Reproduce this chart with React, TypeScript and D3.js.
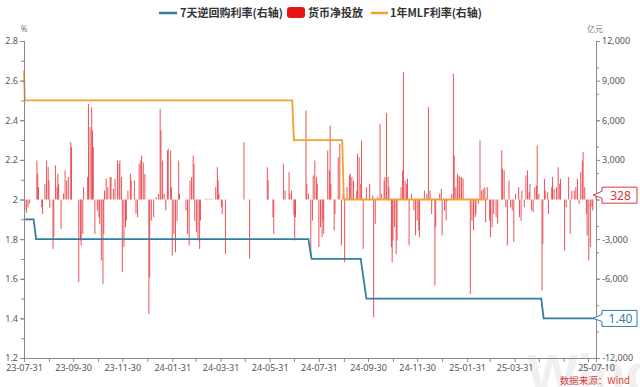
import React, { useEffect, useRef } from "react";
import * as d3 from "d3";

const legendNames = ["7天逆回购利率(右轴)", "货币净投放", "1年MLF利率(右轴)"];
const xDomain = ["2023-07-31", "2025-07-10"];
const leftTicks = [1.2, 1.4, 1.6, 1.8, 2.0, 2.2, 2.4, 2.6, 2.8];
const rightTicks = [-12000, -9000, -6000, -3000, 0, 3000, 6000, 9000, 12000];
const xLabelDates = [
  "2023-07-31", "2023-09-30", "2023-11-30", "2024-01-31", "2024-03-31", "2024-05-31",
  "2024-07-31", "2024-09-30", "2024-11-30", "2025-01-31", "2025-03-31", "2025-07-10",
];
const monthEndDates = [
  "2023-08-31", "2023-10-31", "2023-12-31", "2024-02-29", "2024-04-30", "2024-06-30",
  "2024-08-31", "2024-10-31", "2024-12-31", "2025-02-28", "2025-04-30", "2025-05-31", "2025-06-30",
];

// 7天逆回购利率 (%)
const repo7d: [string, number][] = [
  ["2023-07-31", 1.9], ["2023-08-12", 1.9], ["2023-08-15", 1.8],
  ["2024-07-18", 1.8], ["2024-07-22", 1.7],
  ["2024-09-21", 1.7], ["2024-09-28", 1.5],
  ["2025-05-03", 1.5], ["2025-05-06", 1.4], ["2025-07-10", 1.4],
];

// 1年MLF利率 (%)
const mlf1y: [string, number][] = [
  ["2023-07-31", 2.65], ["2023-08-01", 2.5],
  ["2024-06-28", 2.5], ["2024-06-30", 2.3],
  ["2024-08-29", 2.3], ["2024-08-31", 2.0], ["2025-02-25", 2.0],
];

// 货币净投放 (亿元)
const netInjection: [string, number][] = [
  ["2023-08-01", -800], ["2023-08-03", -1000], ["2023-08-05", -600], ["2023-08-07", -300],
  ["2023-08-16", 2950], ["2023-08-17", 1950], ["2023-08-18", 930], ["2023-08-22", -580], ["2023-08-23", -1090],
  ["2023-08-26", 1190], ["2023-08-28", 2950], ["2023-08-30", 2450], ["2023-08-31", 1440],
  ["2023-09-01", -600], ["2023-09-05", -3740], ["2023-09-06", -2850], ["2023-09-08", 2580], ["2023-09-10", 930],
  ["2023-09-11", 1950], ["2023-09-12", 1190], ["2023-09-15", -2220], ["2023-09-18", 430], ["2023-09-20", 2200],
  ["2023-09-22", 1440], ["2023-09-24", 1700], ["2023-09-27", 4340], ["2023-09-28", 3960],
  ["2023-10-07", -6260], ["2023-10-09", -3100], ["2023-10-10", -3480], ["2023-10-12", -2600], ["2023-10-13", 930],
  ["2023-10-18", 1700], ["2023-10-19", 7250], ["2023-10-21", 5480], ["2023-10-23", 7000], ["2023-10-24", 5230],
  ["2023-10-25", 3960], ["2023-10-27", -2600], ["2023-10-30", -830],
  ["2023-11-01", -1340], ["2023-11-02", -1850], ["2023-11-04", -4620], ["2023-11-06", -6390], ["2023-11-07", -2600],
  ["2023-11-08", 680], ["2023-11-10", 1570], ["2023-11-12", 930], ["2023-11-15", 1700], ["2023-11-16", 1700],
  ["2023-11-19", 800], ["2023-11-21", 1570], ["2023-11-24", 2950], ["2023-11-26", 2700], ["2023-11-27", 2950],
  ["2023-11-29", 1700], ["2023-11-30", -5500],
  ["2023-12-02", -3600], ["2023-12-04", -2100], ["2023-12-05", -1600], ["2023-12-07", 680], ["2023-12-10", 1950],
  ["2023-12-11", 1440], ["2023-12-15", 1440], ["2023-12-17", -1090], ["2023-12-19", -1340], ["2023-12-21", 2700],
  ["2023-12-23", 2950], ["2023-12-24", 3330], ["2023-12-26", 2800], ["2023-12-28", 1950],
  ["2024-01-02", -8660], ["2024-01-03", -5880], ["2024-01-05", -1600], ["2024-01-08", -1340], ["2024-01-11", 180],
  ["2024-01-14", 430], ["2024-01-16", 6870], ["2024-01-17", 5230], ["2024-01-19", 2950], ["2024-01-21", 430],
  ["2024-01-23", -830], ["2024-01-25", 3700], ["2024-01-26", 3830], ["2024-01-29", 3700], ["2024-01-30", 930],
  ["2024-01-31", -4240],
  ["2024-02-02", -2600], ["2024-02-04", -3990], ["2024-02-06", -1600], ["2024-02-08", 2950], ["2024-02-09", 430],
  ["2024-02-17", -830], ["2024-02-19", -2600], ["2024-02-21", -3480], ["2024-02-22", 1440], ["2024-02-24", 1700],
  ["2024-02-26", 3330], ["2024-02-27", 2700], ["2024-02-28", -1600],
  ["2024-03-01", -2470], ["2024-03-03", -3100], ["2024-03-05", -3740], ["2024-03-06", -1600], ["2024-03-12", 80],
  ["2024-03-15", -60], ["2024-03-17", 60], ["2024-03-20", 50], ["2024-03-25", 930], ["2024-03-27", 2450],
  ["2024-03-28", 1440], ["2024-03-29", 430],
  ["2024-04-01", -580], ["2024-04-02", -1090], ["2024-04-06", -4120], ["2024-04-29", 4340],
  ["2024-05-06", -4490], ["2024-05-28", 2450], ["2024-05-29", 1440],
  ["2024-06-04", -1340], ["2024-06-05", -2600], ["2024-06-17", 2700], ["2024-06-19", 680], ["2024-06-24", 2070],
  ["2024-06-25", 430], ["2024-06-27", 680], ["2024-06-30", -1200],
  ["2024-07-01", -3100], ["2024-07-02", -1340], ["2024-07-15", 6740], ["2024-07-16", 1190], ["2024-07-18", 430],
  ["2024-07-21", -4120], ["2024-07-23", -1600], ["2024-07-24", 1820], ["2024-07-26", 2950], ["2024-07-28", 1700],
  ["2024-07-29", 1190], ["2024-07-31", -3610],
  ["2024-08-02", -2100], ["2024-08-04", -2850], ["2024-08-05", -1600], ["2024-08-06", -2600], ["2024-08-11", 3710],
  ["2024-08-13", 2200], ["2024-08-14", 5600], ["2024-08-15", 1190], ["2024-08-19", -2350], ["2024-08-20", -1090],
  ["2024-08-24", 3200], ["2024-08-26", 4220], ["2024-08-28", -3480], ["2024-08-30", 430],
  ["2024-09-01", -4750], ["2024-09-04", 930], ["2024-09-07", 1820], ["2024-09-08", 1950], ["2024-09-10", 1700],
  ["2024-09-12", 1440], ["2024-09-16", 680], ["2024-09-17", 3460], ["2024-09-19", 3200], ["2024-09-21", 1190],
  ["2024-09-22", 4470], ["2024-09-24", -3740], ["2024-09-28", 930],
  ["2024-10-02", 1190], ["2024-10-06", 300], ["2024-10-07", -8910], ["2024-10-09", -1840], ["2024-10-12", 180],
  ["2024-10-15", 5730], ["2024-10-17", 430], ["2024-10-20", 1440], ["2024-10-21", 1700], ["2024-10-23", 6540],
  ["2024-10-25", 1700], ["2024-10-26", 930], ["2024-10-29", -3610], ["2024-10-30", -4750], ["2024-10-31", -3100],
  ["2024-11-02", -2100], ["2024-11-04", -4120], ["2024-11-05", -3100], ["2024-11-10", 930], ["2024-11-12", 2200],
  ["2024-11-13", 9650], ["2024-11-15", 1440], ["2024-11-17", 1190], ["2024-11-18", 1570], ["2024-11-20", -3480],
  ["2024-11-23", 430], ["2024-11-26", -830], ["2024-11-28", -2720], ["2024-11-30", -1600],
  ["2024-12-02", -2350], ["2024-12-03", -2850], ["2024-12-09", 680], ["2024-12-12", 430], ["2024-12-14", 7000],
  ["2024-12-16", 680], ["2024-12-18", -1090], ["2024-12-22", -6510], ["2024-12-23", -2100], ["2024-12-28", 430],
  ["2024-12-30", 800], ["2024-12-31", -2720],
  ["2025-01-03", -830], ["2025-01-05", -1600], ["2025-01-06", -130], ["2025-01-12", 430], ["2025-01-14", 9520],
  ["2025-01-15", 3330], ["2025-01-17", 930], ["2025-01-19", 1950], ["2025-01-21", 1820], ["2025-01-22", 1700],
  ["2025-01-24", 1700], ["2025-01-26", 1570],
  ["2025-02-04", -7150], ["2025-02-06", -1600], ["2025-02-08", -2350], ["2025-02-10", -1340], ["2025-02-11", -1090],
  ["2025-02-14", -330], ["2025-02-16", 4470], ["2025-02-18", 680], ["2025-02-20", 800], ["2025-02-22", 930],
  ["2025-02-23", -1720], ["2025-02-25", 930], ["2025-02-28", -1600],
  ["2025-03-01", -2850], ["2025-03-03", -2100], ["2025-03-05", -1090], ["2025-03-08", -1340], ["2025-03-10", -1840],
  ["2025-03-15", 3710], ["2025-03-16", 2320], ["2025-03-18", 2200], ["2025-03-20", -580], ["2025-03-22", -3480],
  ["2025-03-24", 1440], ["2025-03-26", -580], ["2025-03-28", -830], ["2025-03-30", -3230],
  ["2025-04-01", 430], ["2025-04-05", 930], ["2025-04-06", -1340], ["2025-04-08", -1600], ["2025-04-09", 680],
  ["2025-04-12", -580], ["2025-04-14", 1820], ["2025-04-16", 2200], ["2025-04-18", 550], ["2025-04-19", 1190],
  ["2025-04-21", -830], ["2025-04-23", -960], ["2025-04-25", 930], ["2025-04-27", 1060], ["2025-04-28", 4090],
  ["2025-04-30", 430],
  ["2025-05-04", -6890], ["2025-05-05", -3350], ["2025-05-07", 1570], ["2025-05-08", 680], ["2025-05-11", 550],
  ["2025-05-12", -1090], ["2025-05-16", 930], ["2025-05-17", 1700], ["2025-05-19", 800], ["2025-05-22", 930],
  ["2025-05-24", 2450], ["2025-05-26", 1190], ["2025-05-27", 1570],
  ["2025-06-01", -3860], ["2025-06-03", -580], ["2025-06-06", 1700], ["2025-06-08", -2600], ["2025-06-10", 680],
  ["2025-06-13", 680], ["2025-06-15", 930], ["2025-06-17", 1570], ["2025-06-19", -330], ["2025-06-21", 2070],
  ["2025-06-23", 2950], ["2025-06-24", 3590], ["2025-06-26", 930], ["2025-06-28", -1090], ["2025-06-29", -2720],
  ["2025-07-01", -4620], ["2025-07-03", -3610], ["2025-07-05", -580], ["2025-07-06", -830], ["2025-07-10", 328],
];

const W = 640;
const H = 387;
const blue = "#327da2";
const orange = "#f0a232";
const red = "#e6363d";

export default function App() {
  const svgref = useRef<SVGSVGElement>(null);

  useEffect(() => {
    const svg = d3.select(svgref.current);
    svg.selectAll("*").remove();
    const parse = d3.timeParse("%Y-%m-%d");
    const font = "'Noto Sans', 'Open Sans', sans-serif";

    const x = d3.scaleTime(xDomain.map((d) => parse(d)!), [24, 596]);
    const yL = d3.scaleLinear([1.2, 2.8], [358, 41]);
    const yR = d3.scaleLinear([-12000, 12000], [358, 41]);

    // 水印
    svg.append("text")
      .attr("x", 527).attr("y", 392)
      .attr("font-family", "'Liberation Sans', Arial, sans-serif")
      .attr("font-weight", "bold").attr("font-size", 54)
      .attr("fill", "#f0f0f0")
      .text("Wind");

    // 柱子
    svg.append("g").selectAll("rect").data(netInjection).join("rect")
      .attr("x", (d) => x(parse(d[0])!) - 0.5)
      .attr("width", 1)
      .attr("y", (d) => yR(Math.max(0, d[1])))
      .attr("height", (d) => Math.max(0.6, Math.abs(yR(d[1]) - yR(0))))
      .attr("fill", red)
      .attr("fill-opacity", 0.85);

    const line = d3.line<[string, number]>()
      .x((d) => x(parse(d[0])!))
      .y((d) => yL(d[1]));

    svg.append("path").attr("d", line(mlf1y)).attr("fill", "none")
      .attr("stroke", orange).attr("stroke-width", 1.8);
    svg.append("path").attr("d", line(repo7d)).attr("fill", "none")
      .attr("stroke", blue).attr("stroke-width", 1.8);

    // 坐标轴
    const styleAxis = (g: any) => {
      g.select(".domain").attr("stroke", "#8a8a8a");
      g.selectAll(".tick line").attr("stroke", "#8a8a8a");
      g.selectAll(".tick text").attr("fill", "#555").style("font-family", font).style("font-size", "9px");
    };

    svg.append("g").attr("transform", "translate(24,0)")
      .call(d3.axisLeft(yL).tickValues(yL.ticks(16)).tickSize(3).tickFormat(() => ""))
      .call(styleAxis);
    svg.append("g").attr("transform", "translate(24,0)")
      .call(d3.axisLeft(yL).tickValues(leftTicks).tickSize(4).tickPadding(2)
        .tickFormat((d: any) => String(+(+d).toFixed(1))))
      .call(styleAxis);

    const fmt = d3.format(",");
    svg.append("g").attr("transform", "translate(596,0)")
      .call(d3.axisRight(yR).tickValues(yR.ticks(16)).tickSize(3).tickFormat(() => ""))
      .call(styleAxis);
    svg.append("g").attr("transform", "translate(596,0)")
      .call(d3.axisRight(yR).tickValues(rightTicks).tickSize(4).tickPadding(2)
        .tickFormat((d: any) => fmt(d).replace("−", "-")))
      .call(styleAxis);

    svg.append("g").attr("transform", "translate(0,358)")
      .call(d3.axisBottom(x).tickValues(monthEndDates.map((d) => parse(d)!)).tickSize(4).tickFormat(() => ""))
      .call(styleAxis);
    svg.append("g").attr("transform", "translate(0,358)")
      .call(d3.axisBottom(x).tickValues(xLabelDates.map((d) => parse(d)!)).tickSize(4).tickPadding(3)
        .tickFormat((d: any) => d3.timeFormat("%y-%m-%d")(d)))
      .call(styleAxis);

    // 单位
    svg.append("text").attr("x", 24).attr("y", 32).attr("text-anchor", "middle")
      .attr("font-family", font).attr("font-size", 8).attr("fill", "#777").text("%");
    svg.append("text").attr("x", 595).attr("y", 32).attr("text-anchor", "middle")
      .attr("font-family", "'Noto Sans CJK SC', sans-serif").attr("font-size", 8).attr("fill", "#777").text("亿元");

    // 最新值标签
    const callout = (yv: number, label: string, color: string) => {
      const tip = 593, x0 = 602, x1 = 637;
      const g = svg.append("g");
      g.append("path")
        .attr("d", `M${tip},${yv} L${x0},${yv - 4} L${x0},${yv - 8} L${x1},${yv - 8} L${x1},${yv + 8} L${x0},${yv + 8} L${x0},${yv + 3} Z`)
        .attr("fill", "#fff").attr("stroke", color).attr("stroke-width", 1);
      g.append("text").attr("x", (x0 + x1) / 2 + 1).attr("y", yv + 4.5).attr("text-anchor", "middle")
        .attr("font-family", font).attr("font-size", 12).attr("fill", color).text(label);
    };
    const lastBar = netInjection[netInjection.length - 1][1];
    const lastRepo = repo7d[repo7d.length - 1][1];
    callout(yR(lastBar), String(lastBar), "#d9363e");
    callout(yL(lastRepo), lastRepo.toFixed(2), blue);

    // 图例
    const lg = svg.append("g").attr("font-family", "'Noto Sans CJK SC', sans-serif")
      .attr("font-size", 11).attr("font-weight", "bold").attr("fill", "#333");
    lg.append("line").attr("x1", 159).attr("x2", 177).attr("y1", 13).attr("y2", 13)
      .attr("stroke", blue).attr("stroke-width", 2.5);
    lg.append("text").attr("x", 180).attr("y", 17).text(legendNames[0]);
    lg.append("rect").attr("x", 287).attr("y", 7).attr("width", 18).attr("height", 11).attr("rx", 3)
      .attr("fill", "#e8141c");
    lg.append("text").attr("x", 308).attr("y", 17).text(legendNames[1]);
    lg.append("line").attr("x1", 371).attr("x2", 388).attr("y1", 13).attr("y2", 13)
      .attr("stroke", orange).attr("stroke-width", 2.5);
    lg.append("text").attr("x", 390).attr("y", 17).text(legendNames[2]);

    // 数据来源
    svg.append("text").attr("x", 630).attr("y", 384).attr("text-anchor", "end")
      .attr("font-family", "'Noto Sans CJK SC', sans-serif").attr("font-size", 9.5)
      .attr("fill", "#d23c3c").text("数据来源：Wind");
  }, []);

  return (
    <svg ref={svgref} width={W} height={H}
      style={{ position: "fixed", left: 0, top: 0, background: "#fff" }} />
  );
}
